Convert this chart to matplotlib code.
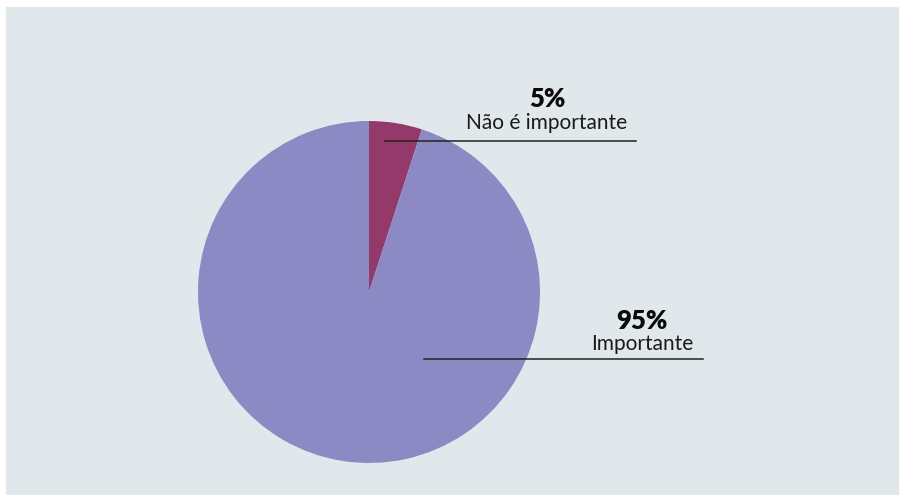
import matplotlib.pyplot as plt
from matplotlib.patches import Rectangle

plt.rcParams['font.family'] = ['Lato', 'DejaVu Sans']

labels = ['Não é importante', 'Importante']
values = [5, 95]
colors = ['#943a6a', '#8b8ac4']
bg = '#e1e8eb'

W, H = 904, 495
fig = plt.figure(figsize=(W / 100, H / 100), dpi=100)
ax = fig.add_axes([0, 0, 1, 1])

# background panel
ax.add_patch(Rectangle((6, H - 494), 892, 487, color=bg, zorder=0))

ax.pie(values, colors=colors, startangle=90, counterclock=False,
       center=(369, H - 292), radius=171, frame=True,
       wedgeprops=dict(linewidth=0))
ax.set_xlim(0, W)
ax.set_ylim(0, H)
ax.set_aspect('equal')
ax.axis('off')

# annotations: (text x, baseline pct, baseline label, line x0, x1, line y)
ann = [(547, 107, 129, 385, 636, 141),
       (642, 329, 350, 424, 703, 359)]
for (lab, val, a) in zip(labels, values, ann):
    x, yp, yl, x0, x1, yline = a
    ax.text(x, H - yp, f'{val}%', ha='center', va='baseline',
            fontsize=18.5, fontweight='heavy', color='#0a0a0a')
    ax.text(x, H - yl, lab, ha='center', va='baseline',
            fontsize=15, color='#1a1a1a')
    ax.plot([x0, x1], [H - yline, H - yline], color='#222222', lw=1.1)

plt.savefig('out.png', dpi=100, facecolor='white')
